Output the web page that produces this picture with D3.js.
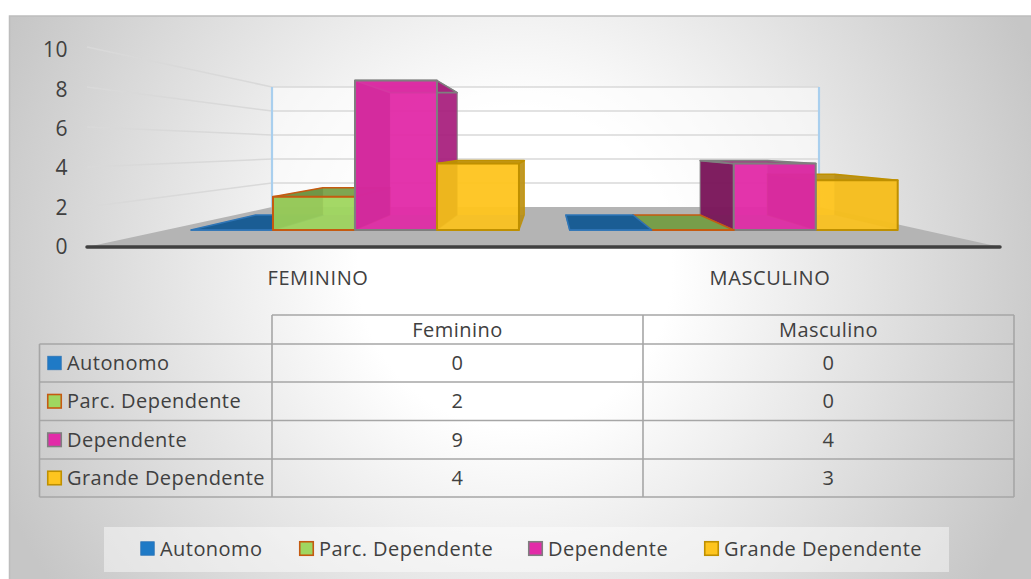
<!DOCTYPE html>
<html><head><meta charset="utf-8">
<style>html,body{margin:0;padding:0;background:#fff}svg{display:block}text{font-family:"Open Sans","Noto Sans",sans-serif;fill:#404040;letter-spacing:.45px}</style>
<script src="https://cdn.jsdelivr.net/npm/d3@7"></script></head><body>
<svg id="c" width="1031" height="579"></svg>
<script>
const categories = ["FEMININO", "MASCULINO"];
const tableHeaders = ["Feminino", "Masculino"];
const seriesNames = ["Autonomo", "Parc. Dependente", "Dependente", "Grande Dependente"];
const autonomo = [0, 0];
const parcDependente = [2, 0];
const dependente = [9, 4];
const grandeDependente = [4, 3];
const yTicks = [0, 2, 4, 6, 8, 10];
const fills = ["#1f7ac6", "#9fd660", "#e22ba8", "#fec51f"];
const strokes = ["#2e75b6", "#c55a11", "#7f7f7f", "#bf9000"];
const allValues = [autonomo, parcDependente, dependente, grandeDependente];

const svg = d3.select("#c");
const defs = svg.append("defs");
const g = defs.append("radialGradient").attr("id", "bg").attr("gradientUnits", "userSpaceOnUse")
  .attr("cx", 515).attr("cy", 270).attr("r", 560);
g.append("stop").attr("offset", 0.28).attr("stop-color", "#ffffff");
g.append("stop").attr("offset", 1).attr("stop-color", "#c6c6c6");

// frame
svg.append("rect").attr("x", 9.5).attr("y", 16).attr("width", 1030).attr("height", 580)
  .attr("fill", "url(#bg)").attr("stroke", "#bdbdbd").attr("stroke-width", 1.5);

// perspective scales: depth d runs 0 (front of floor) to 1 (back wall)
const leftEdge = d3.scaleLinear().domain([0, 1]).range([87, 272]);
const rightEdge = d3.scaleLinear().domain([0, 1]).range([1000, 819]);
const baseY = d3.scaleLinear().domain([0, 1]).range([247, 207]);
const topY = d3.scaleLinear().domain([0, 1]).range([47, 87]);
const P = (u, v, d) => {
  const l = leftEdge(d), r = rightEdge(d);
  const y = d3.scaleLinear().domain([0, 10]).range([baseY(d), topY(d)]);
  return [l + u * (r - l), y(v)];
};
const line = d3.line();

// back wall
svg.append("path").attr("d", line([P(0,0,1),P(1,0,1),P(1,10,1),P(0,10,1)]) + "Z").attr("fill", "#ffffff").attr("fill-opacity", 0.55);
// floor
svg.append("path").attr("d", line([P(0,0,0),P(1,0,0),P(1,0,1),P(0,0,1)]) + "Z").attr("fill", "#b4b4b4");
// gridlines
yTicks.forEach(t => {
  if (t > 0) {
    svg.append("path").attr("d", line([P(0,t,0),P(0,t,1),P(1,t,1)])).attr("fill", "none")
      .attr("stroke", "#d9d9d9").attr("stroke-width", 1.5);
  }
});
// wall pillars
[0, 1].forEach(u => svg.append("path").attr("d", line([P(u,0,1),P(u,10,1)])).attr("stroke", "#a9cfee").attr("stroke-width", 2.2).attr("fill", "none"));
svg.append("path").attr("d", line([P(0,0,0),P(1,0,0)])).attr("stroke", "#404040").attr("stroke-width", 3.5).attr("stroke-linecap","round");

// bars
const dFront = 0.425, dBack = 0.8;
const catBand = d3.scaleBand().domain(d3.range(categories.length)).range([0, 1]);
const inner = d3.scaleBand().domain(d3.range(seriesNames.length)).range([0, 1]).paddingOuter(0);
const barFrac = 0.866; // share of a category occupied by the cluster
const darker = (c, k) => d3.color(c).darker(k).formatHex();
function drawBar(cat, s) {
  const v = allValues[s][cat];
  const c0 = catBand(cat), w = catBand.bandwidth();
  const pad = (1 - barFrac) / 2 * w;
  const clusterW = w - 2 * pad;
  const u0 = c0 + pad + inner(s) * clusterW;
  const u1 = u0 + inner.bandwidth() * clusterW;
  const F = (u, val) => P(u, val, dFront), B = (u, val) => P(u, val, dBack);
  const col = fills[s], st = strokes[s];
  const gb = svg.append("g");
  const face = (pts, fill, op, stroke, sw, sop) => gb.append("path").attr("d", line(pts) + "Z")
    .attr("fill", fill).attr("fill-opacity", op)
    .attr("stroke", stroke || "none").attr("stroke-width", sw || 0).attr("stroke-opacity", sop == null ? 1 : sop).attr("stroke-linejoin","round");
  const leftOfCentre = (u0 + u1) / 2 < 0.5;
  // back, floor
  face([B(u0,0),B(u1,0),B(u1,v),B(u0,v)], col, 0.7);
  face([F(u0,0),F(u1,0),B(u1,0),B(u0,0)], darker(col,0.55), v > 0 ? 0.55 : 0.85);
  // left-facing side is the darkest, right-facing side somewhat lighter
  face([F(u0,0),B(u0,0),B(u0,v),F(u0,v)], darker(col,1.9), 0.9, st, 1.2, leftOfCentre ? 0.2 : 0.8);
  face([F(u1,0),B(u1,0),B(u1,v),F(u1,v)], darker(col,1.0), 0.8, st, 1.2, leftOfCentre ? 0.8 : 0.2);
  // top
  face([F(u0,v),F(u1,v),B(u1,v),B(u0,v)], darker(col,0.9), 0.85, st, 1.6);
  // front
  face([F(u0,0),F(u1,0),F(u1,v),F(u0,v)], col, v > 0 ? 0.86 : 0, st, s === 0 ? 1 : 2);
}
// painter's order: outside in, towards the vanishing centre
categories.forEach((_, cat) => {
  const order = seriesNames.map((_, s) => s);
  (cat === 0 ? order : order.reverse()).forEach(s => drawBar(cat, s));
});

// y labels (label column is spaced slightly tighter than the floor front)
const yLabels = d3.scaleLinear().domain([0, 10]).range([247, 50]);
const yAxis = svg.append("g").attr("transform", "translate(68,0)").call(d3.axisLeft(yLabels).tickValues(yTicks).tickSize(0).tickPadding(0));
yAxis.select(".domain").remove();
yAxis.selectAll("text").attr("font-size", 21).style("font-family", '"Open Sans","Noto Sans",sans-serif').style("fill", "#404040");

// category labels
const catCenters = [318, 770];
categories.forEach((c, i) => svg.append("text").attr("x", catCenters[i]).attr("y", 278).attr("dy", "0.35em")
  .attr("text-anchor", "middle").attr("font-size", 20).style("letter-spacing",".6px").text(c));

// data table
const colX = [39.5, 272, 643, 1014];
const rowY = [315, 344, 382, 420.5, 459, 497];
const tl = svg.append("g").attr("stroke", "#a6a6a6").attr("stroke-width", 1.6).attr("fill", "none");
tl.append("path").attr("d", line([[colX[1],rowY[0]],[colX[3],rowY[0]]]));
rowY.slice(1).forEach(y => tl.append("path").attr("d", line([[colX[0],y],[colX[3],y]])));
tl.append("path").attr("d", line([[colX[0],rowY[1]],[colX[0],rowY[5]]]));
colX.slice(1).forEach(x => tl.append("path").attr("d", line([[x,rowY[0]],[x,rowY[5]]])));
tableHeaders.forEach((h, i) => svg.append("text").attr("x", (colX[i+1]+colX[i+2])/2).attr("y", (rowY[0]+rowY[1])/2).attr("dy","0.35em")
  .attr("text-anchor","middle").attr("font-size",20).text(h));
const swatch = (x, y, s) => svg.append("rect").attr("x", x+0.75).attr("y", y+0.75).attr("width", 13.5).attr("height", 13.5)
  .attr("fill", fills[s]).attr("stroke", strokes[s]).attr("stroke-width", s === 0 ? 0.8 : 1.6);
seriesNames.forEach((n, s) => {
  const cy = (rowY[s+1] + rowY[s+2]) / 2;
  swatch(47, cy - 7.5, s);
  svg.append("text").attr("x", 67).attr("y", cy).attr("dy","0.35em").attr("font-size",20).text(n);
  allValues[s].forEach((v, i) => svg.append("text").attr("x", (colX[i+1]+colX[i+2])/2).attr("y", cy).attr("dy","0.35em")
    .attr("text-anchor","middle").attr("font-size",20).text(v));
});

// legend
svg.append("rect").attr("x", 104).attr("y", 527).attr("width", 845).attr("height", 45).attr("fill", "#ffffff").attr("fill-opacity", 0.45);
const legendX = [140, 299, 528, 704];
seriesNames.forEach((n, s) => {
  swatch(legendX[s], 541, s);
  svg.append("text").attr("x", legendX[s] + 20).attr("y", 549).attr("dy","0.35em").attr("font-size",20).text(n);
});
</script></body></html>
